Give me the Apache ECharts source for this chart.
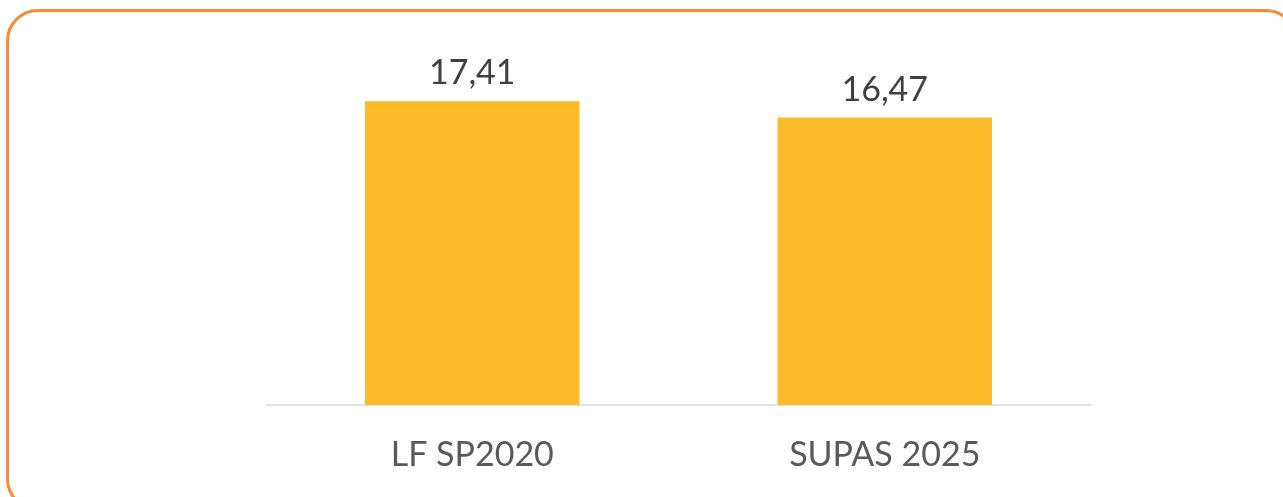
<!DOCTYPE html>
<html>
<head>
<meta charset="utf-8">
<script src="https://cdn.jsdelivr.net/npm/echarts@6/dist/echarts.min.js"></script>
<style>
  html, body { margin: 0; padding: 0; background: #fff; overflow: hidden; }
  .frame {
    position: absolute;
    left: 6px;
    top: 9px;
    width: 1292px;
    height: 502px;
    box-sizing: border-box;
    border: 3px solid #f68b33;
    border-radius: 32px;
  }
  #chart { position: absolute; left: 0; top: 0; width: 1283px; height: 497px; }
</style>
</head>
<body>
<div class="frame"></div>
<div id="chart"></div>
<script>
const categories = ['LF SP2020', 'SUPAS 2025']
const values = [17.41, 16.47]

const chart = echarts.init(document.getElementById('chart'))
chart.setOption({
  animation: false,
  grid: { left: 266, right: 192, top: 56, bottom: 92 },
  xAxis: {
    type: 'category',
    data: categories,
    axisLine: { lineStyle: { color: '#d9d9d9', width: 1.5 } },
    axisTick: { show: false },
    axisLabel: {
      margin: 33,
      color: '#595959',
      fontFamily: 'Lato',
      fontSize: 34
    }
  },
  yAxis: {
    type: 'value',
    min: 0,
    max: 20,
    show: false,
    splitLine: { show: false }
  },
  series: [
    {
      type: 'bar',
      data: values,
      barWidth: '52%',
      itemStyle: { color: '#fdbb2a' },
      label: {
        show: true,
        position: 'top',
        distance: 11,
        color: '#404040',
        fontFamily: 'Lato',
        fontSize: 34,
        formatter: p => p.value.toFixed(2).replace('.', ',')
      }
    }
  ]
})
</script>
</body>
</html>
